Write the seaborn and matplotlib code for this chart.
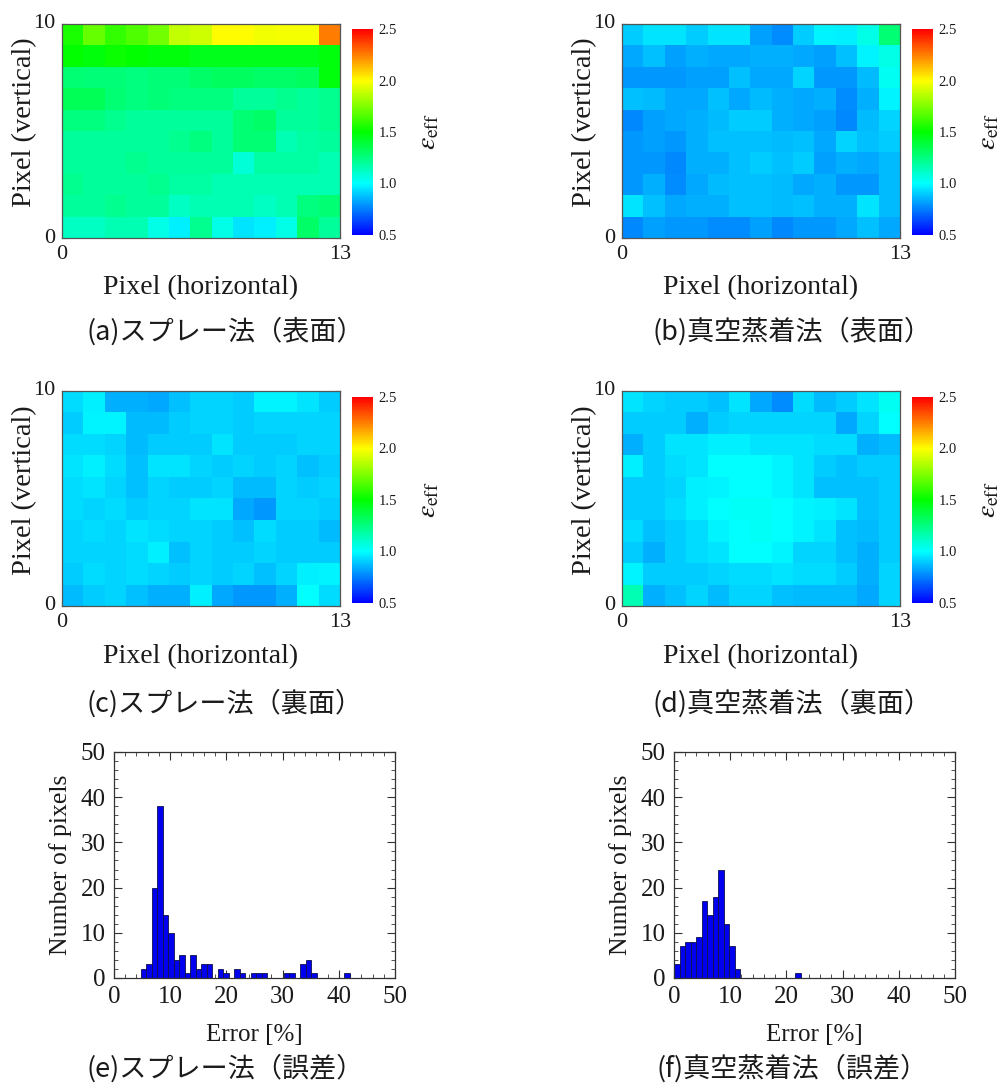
import matplotlib
matplotlib.use("Agg")
import matplotlib.pyplot as plt
import seaborn as sns
import numpy as np
import pandas as pd
from matplotlib.colors import LinearSegmentedColormap
from matplotlib.ticker import MultipleLocator


# effective emissivity maps, rows listed top (pixel 10) to bottom (pixel 0)
spray_front = [
    [1.55, 1.70, 1.60, 1.65, 1.72, 1.88, 1.90, 2.00, 2.00, 1.97, 1.98, 1.98, 2.25],
    [1.50, 1.48, 1.52, 1.50, 1.48, 1.48, 1.45, 1.45, 1.45, 1.45, 1.45, 1.45, 1.48],
    [1.28, 1.27, 1.27, 1.25, 1.27, 1.27, 1.30, 1.32, 1.32, 1.30, 1.30, 1.32, 1.48],
    [1.33, 1.33, 1.28, 1.25, 1.27, 1.25, 1.25, 1.25, 1.20, 1.20, 1.22, 1.20, 1.22],
    [1.25, 1.25, 1.22, 1.20, 1.20, 1.20, 1.20, 1.20, 1.28, 1.30, 1.20, 1.20, 1.22],
    [1.20, 1.20, 1.20, 1.20, 1.20, 1.22, 1.25, 1.20, 1.28, 1.28, 1.15, 1.18, 1.20],
    [1.20, 1.20, 1.20, 1.22, 1.20, 1.20, 1.20, 1.20, 1.08, 1.18, 1.18, 1.18, 1.15],
    [1.22, 1.20, 1.20, 1.20, 1.22, 1.18, 1.18, 1.15, 1.15, 1.15, 1.15, 1.15, 1.15],
    [1.20, 1.20, 1.22, 1.20, 1.20, 1.12, 1.15, 1.15, 1.15, 1.12, 1.15, 1.25, 1.28],
    [1.12, 1.12, 1.15, 1.15, 1.05, 0.97, 1.22, 1.05, 0.95, 0.97, 1.05, 1.30, 1.20],
]
vacuum_front = [
    [0.90, 0.95, 0.95, 0.90, 0.95, 0.95, 0.82, 0.78, 0.90, 0.98, 0.97, 1.05, 1.28],
    [0.83, 0.88, 0.82, 0.85, 0.83, 0.83, 0.85, 0.85, 0.83, 0.82, 0.88, 0.98, 1.05],
    [0.80, 0.80, 0.80, 0.82, 0.82, 0.88, 0.83, 0.83, 0.92, 0.80, 0.80, 0.87, 1.03],
    [0.88, 0.87, 0.83, 0.83, 0.88, 0.83, 0.87, 0.85, 0.83, 0.85, 0.78, 0.85, 0.98],
    [0.77, 0.82, 0.83, 0.85, 0.87, 0.90, 0.90, 0.85, 0.83, 0.82, 0.77, 0.87, 0.92],
    [0.80, 0.82, 0.80, 0.85, 0.88, 0.88, 0.88, 0.87, 0.88, 0.83, 0.92, 0.88, 0.90],
    [0.80, 0.80, 0.77, 0.85, 0.85, 0.88, 0.90, 0.88, 0.90, 0.82, 0.85, 0.83, 0.87],
    [0.80, 0.85, 0.78, 0.83, 0.87, 0.88, 0.88, 0.87, 0.83, 0.85, 0.80, 0.80, 0.87],
    [0.95, 0.88, 0.83, 0.85, 0.85, 0.88, 0.88, 0.87, 0.88, 0.85, 0.85, 0.95, 0.87],
    [0.77, 0.82, 0.80, 0.80, 0.78, 0.78, 0.82, 0.77, 0.80, 0.80, 0.83, 0.88, 0.83],
]
spray_back = [
    [0.93, 0.97, 0.85, 0.85, 0.83, 0.88, 0.92, 0.92, 0.90, 0.98, 0.98, 0.95, 0.90],
    [0.90, 0.98, 0.98, 0.87, 0.87, 0.90, 0.92, 0.92, 0.90, 0.92, 0.92, 0.92, 0.92],
    [0.93, 0.93, 0.92, 0.87, 0.90, 0.90, 0.90, 0.95, 0.90, 0.90, 0.90, 0.92, 0.92],
    [0.95, 0.97, 0.93, 0.88, 0.95, 0.95, 0.92, 0.90, 0.92, 0.90, 0.92, 0.88, 0.90],
    [0.93, 0.95, 0.92, 0.88, 0.92, 0.90, 0.90, 0.92, 0.87, 0.87, 0.92, 0.90, 0.92],
    [0.93, 0.92, 0.93, 0.90, 0.92, 0.92, 0.95, 0.95, 0.83, 0.80, 0.92, 0.92, 0.90],
    [0.92, 0.93, 0.92, 0.95, 0.93, 0.92, 0.92, 0.90, 0.88, 0.93, 0.90, 0.90, 0.87],
    [0.92, 0.92, 0.92, 0.93, 0.97, 0.88, 0.92, 0.90, 0.90, 0.92, 0.90, 0.90, 0.90],
    [0.90, 0.93, 0.92, 0.93, 0.92, 0.90, 0.92, 0.90, 0.92, 0.88, 0.92, 0.97, 0.98],
    [0.87, 0.90, 0.92, 0.88, 0.85, 0.85, 0.97, 0.83, 0.80, 0.80, 0.85, 1.00, 0.93],
]
vacuum_back = [
    [0.95, 0.92, 0.90, 0.90, 0.88, 0.95, 0.83, 0.78, 0.93, 0.87, 0.90, 0.95, 1.03],
    [0.90, 0.90, 0.90, 0.85, 0.90, 0.92, 0.92, 0.92, 0.92, 0.92, 0.83, 0.92, 1.00],
    [0.85, 0.90, 0.95, 0.95, 0.97, 0.97, 0.95, 0.95, 0.95, 0.93, 0.93, 0.85, 0.87],
    [0.97, 0.90, 0.93, 0.95, 1.00, 1.00, 1.00, 0.98, 0.95, 0.90, 0.88, 0.90, 0.90],
    [0.90, 0.90, 0.92, 0.97, 0.98, 1.00, 1.00, 0.98, 0.95, 0.88, 0.88, 0.88, 0.90],
    [0.90, 0.90, 0.93, 0.97, 1.00, 1.02, 1.02, 1.00, 0.98, 0.97, 0.95, 0.88, 0.90],
    [0.93, 0.88, 0.90, 0.93, 0.98, 1.00, 1.02, 1.00, 0.98, 0.95, 0.88, 0.87, 0.90],
    [0.90, 0.85, 0.90, 0.93, 0.95, 1.00, 1.00, 0.98, 0.92, 0.92, 0.88, 0.85, 0.90],
    [0.98, 0.90, 0.90, 0.90, 0.92, 0.93, 0.93, 0.95, 0.93, 0.93, 0.90, 0.85, 0.92],
    [1.15, 0.85, 0.88, 0.92, 0.87, 0.92, 0.92, 0.88, 0.87, 0.87, 0.87, 0.83, 0.92],
]

# error histograms (counts per bin)
bin_width = 0.98
spray_err_start = 4.75
spray_err_counts = [2, 3, 20, 38, 14, 10, 4, 5, 1, 5, 2, 3, 3, 0, 2, 1, 0, 2, 1, 0,
                    1, 1, 1, 0, 0, 0, 1, 1, 0, 3, 4, 1, 0, 0, 0, 0, 0, 1]
vacuum_err_start = 0.0
vacuum_err_counts = [3, 7, 8, 8, 9, 17, 14, 18, 24, 12, 7, 2, 0, 0, 0, 0, 0, 0, 0, 0,
                     0, 0, 1]

captions = ["(a)スプレー法（表面）", "(b)真空蒸着法（表面）",
            "(c)スプレー法（裏面）", "(d)真空蒸着法（裏面）",
            "(e)スプレー法（誤差）", "(f)真空蒸着法（誤差）"]
cbar_ticks = [0.5, 1.0, 1.5, 2.0, 2.5]

sns.set_style("ticks")
plt.rcParams["font.family"] = ["Liberation Serif", "DejaVu Serif"]
plt.rcParams["mathtext.fontset"] = "stix"

W, H = 1005, 1090
cmap = LinearSegmentedColormap.from_list(
    "eff", ["#0000ff", "#00ffff", "#00ff00", "#ffff00", "#ff0000"])
TXT = "#1a1a1a"
EDGE = "#555555"


def box(x0, y0, x1, y1):
    return [x0 / W, 1 - y1 / H, (x1 - x0) / W, (y1 - y0) / H]


def caption(text, x, y):
    fig.text(x / W, 1 - y / H, text, ha="center", va="center", fontsize=19.5,
             color=TXT, family=["Noto Sans CJK JP", "DejaVu Sans"])


def draw_map(data, ax_box, cb_box):
    ax = fig.add_axes(box(*ax_box))
    cax = fig.add_axes(box(*cb_box))
    sns.heatmap(np.array(data), ax=ax, cbar_ax=cax, cmap=cmap,
                vmin=0.5, vmax=2.5, linewidths=0)
    for s in ax.spines.values():
        s.set_visible(True)
        s.set_color(EDGE)
        s.set_linewidth(0.9)
    ax.set_xticks(range(14))
    ax.set_xticklabels(["0"] + [""] * 12 + ["13"], rotation=0)
    ax.set_yticks(range(11))
    ax.set_yticklabels(["10"] + [""] * 9 + ["0"], rotation=0)
    ax.tick_params(direction="in", top=True, right=True, length=4,
                   width=0.8, color=EDGE, labelsize=16, labelcolor=TXT, pad=5)
    ax.set_xlabel("Pixel (horizontal)", fontsize=20, color=TXT)
    ax.set_ylabel("Pixel (vertical)", fontsize=20.5, color=TXT)
    ax.xaxis.set_label_coords(0.5, -0.175)
    ax.yaxis.set_label_coords(-0.09, 0.54)

    cax.set_yticks(cbar_ticks)
    cax.set_yticklabels([f"{t:.1f}" for t in cbar_ticks])
    cax.tick_params(length=0, labelsize=10.5, labelcolor=TXT, pad=4)
    for s in cax.spines.values():
        s.set_visible(False)
    cax.set_ylabel(r"$\varepsilon_{\rm eff}$", fontsize=20, color=TXT,
                   labelpad=14)
    return ax


def draw_hist(counts, start, ax_box):
    ax = fig.add_axes(box(*ax_box))
    n = len(counts)
    centers = start + bin_width * (np.arange(n) + 0.5)
    df = pd.DataFrame({"error": centers, "count": counts})
    sns.histplot(data=df, x="error", weights="count", binwidth=bin_width,
                 binrange=(start, start + bin_width * n), ax=ax,
                 color="#0000ee", edgecolor="#10104a", linewidth=0.6, alpha=1)
    ax.set_xlim(0, 50)
    ax.set_ylim(0, 50)
    ax.xaxis.set_major_locator(MultipleLocator(10))
    ax.yaxis.set_major_locator(MultipleLocator(10))
    ax.xaxis.set_minor_locator(MultipleLocator(2))
    ax.yaxis.set_minor_locator(MultipleLocator(2))
    ax.tick_params(which="both", direction="in", top=True, right=True,
                   color="#333333", labelcolor=TXT)
    ax.tick_params(which="major", length=6, width=0.8, labelsize=18, pad=6)
    ax.tick_params(which="minor", length=3, width=0.6)
    for s in ax.spines.values():
        s.set_color("#333333")
        s.set_linewidth(0.9)
    ax.set_xlabel("Error [%]", fontsize=18, color=TXT)
    ax.set_ylabel("Number of pixels", fontsize=18.5, color=TXT)
    ax.xaxis.set_label_coords(0.5, -0.205)
    ax.yaxis.set_label_coords(-0.15, 0.5)
    return ax


fig = plt.figure(figsize=(10.05, 10.9), dpi=100)

draw_map(spray_front, (62, 24, 340, 238), (352, 29, 373, 235))
draw_map(vacuum_front, (622, 24, 900, 238), (912, 29, 933, 235))
draw_map(spray_back, (62, 391, 340, 606), (352, 397, 373, 603))
draw_map(vacuum_back, (622, 391, 900, 606), (912, 397, 933, 603))
draw_hist(spray_err_counts, spray_err_start, (114, 752, 395, 978))
draw_hist(vacuum_err_counts, vacuum_err_start, (674, 752, 955, 978))

for text, (cx, cy) in zip(captions, [(225, 331), (792, 331), (225, 703),
                                     (792, 703), (225, 1068), (792, 1068)]):
    caption(text, cx, cy)

fig.savefig("out.png", dpi=100, facecolor="white")
plt.close(fig)
